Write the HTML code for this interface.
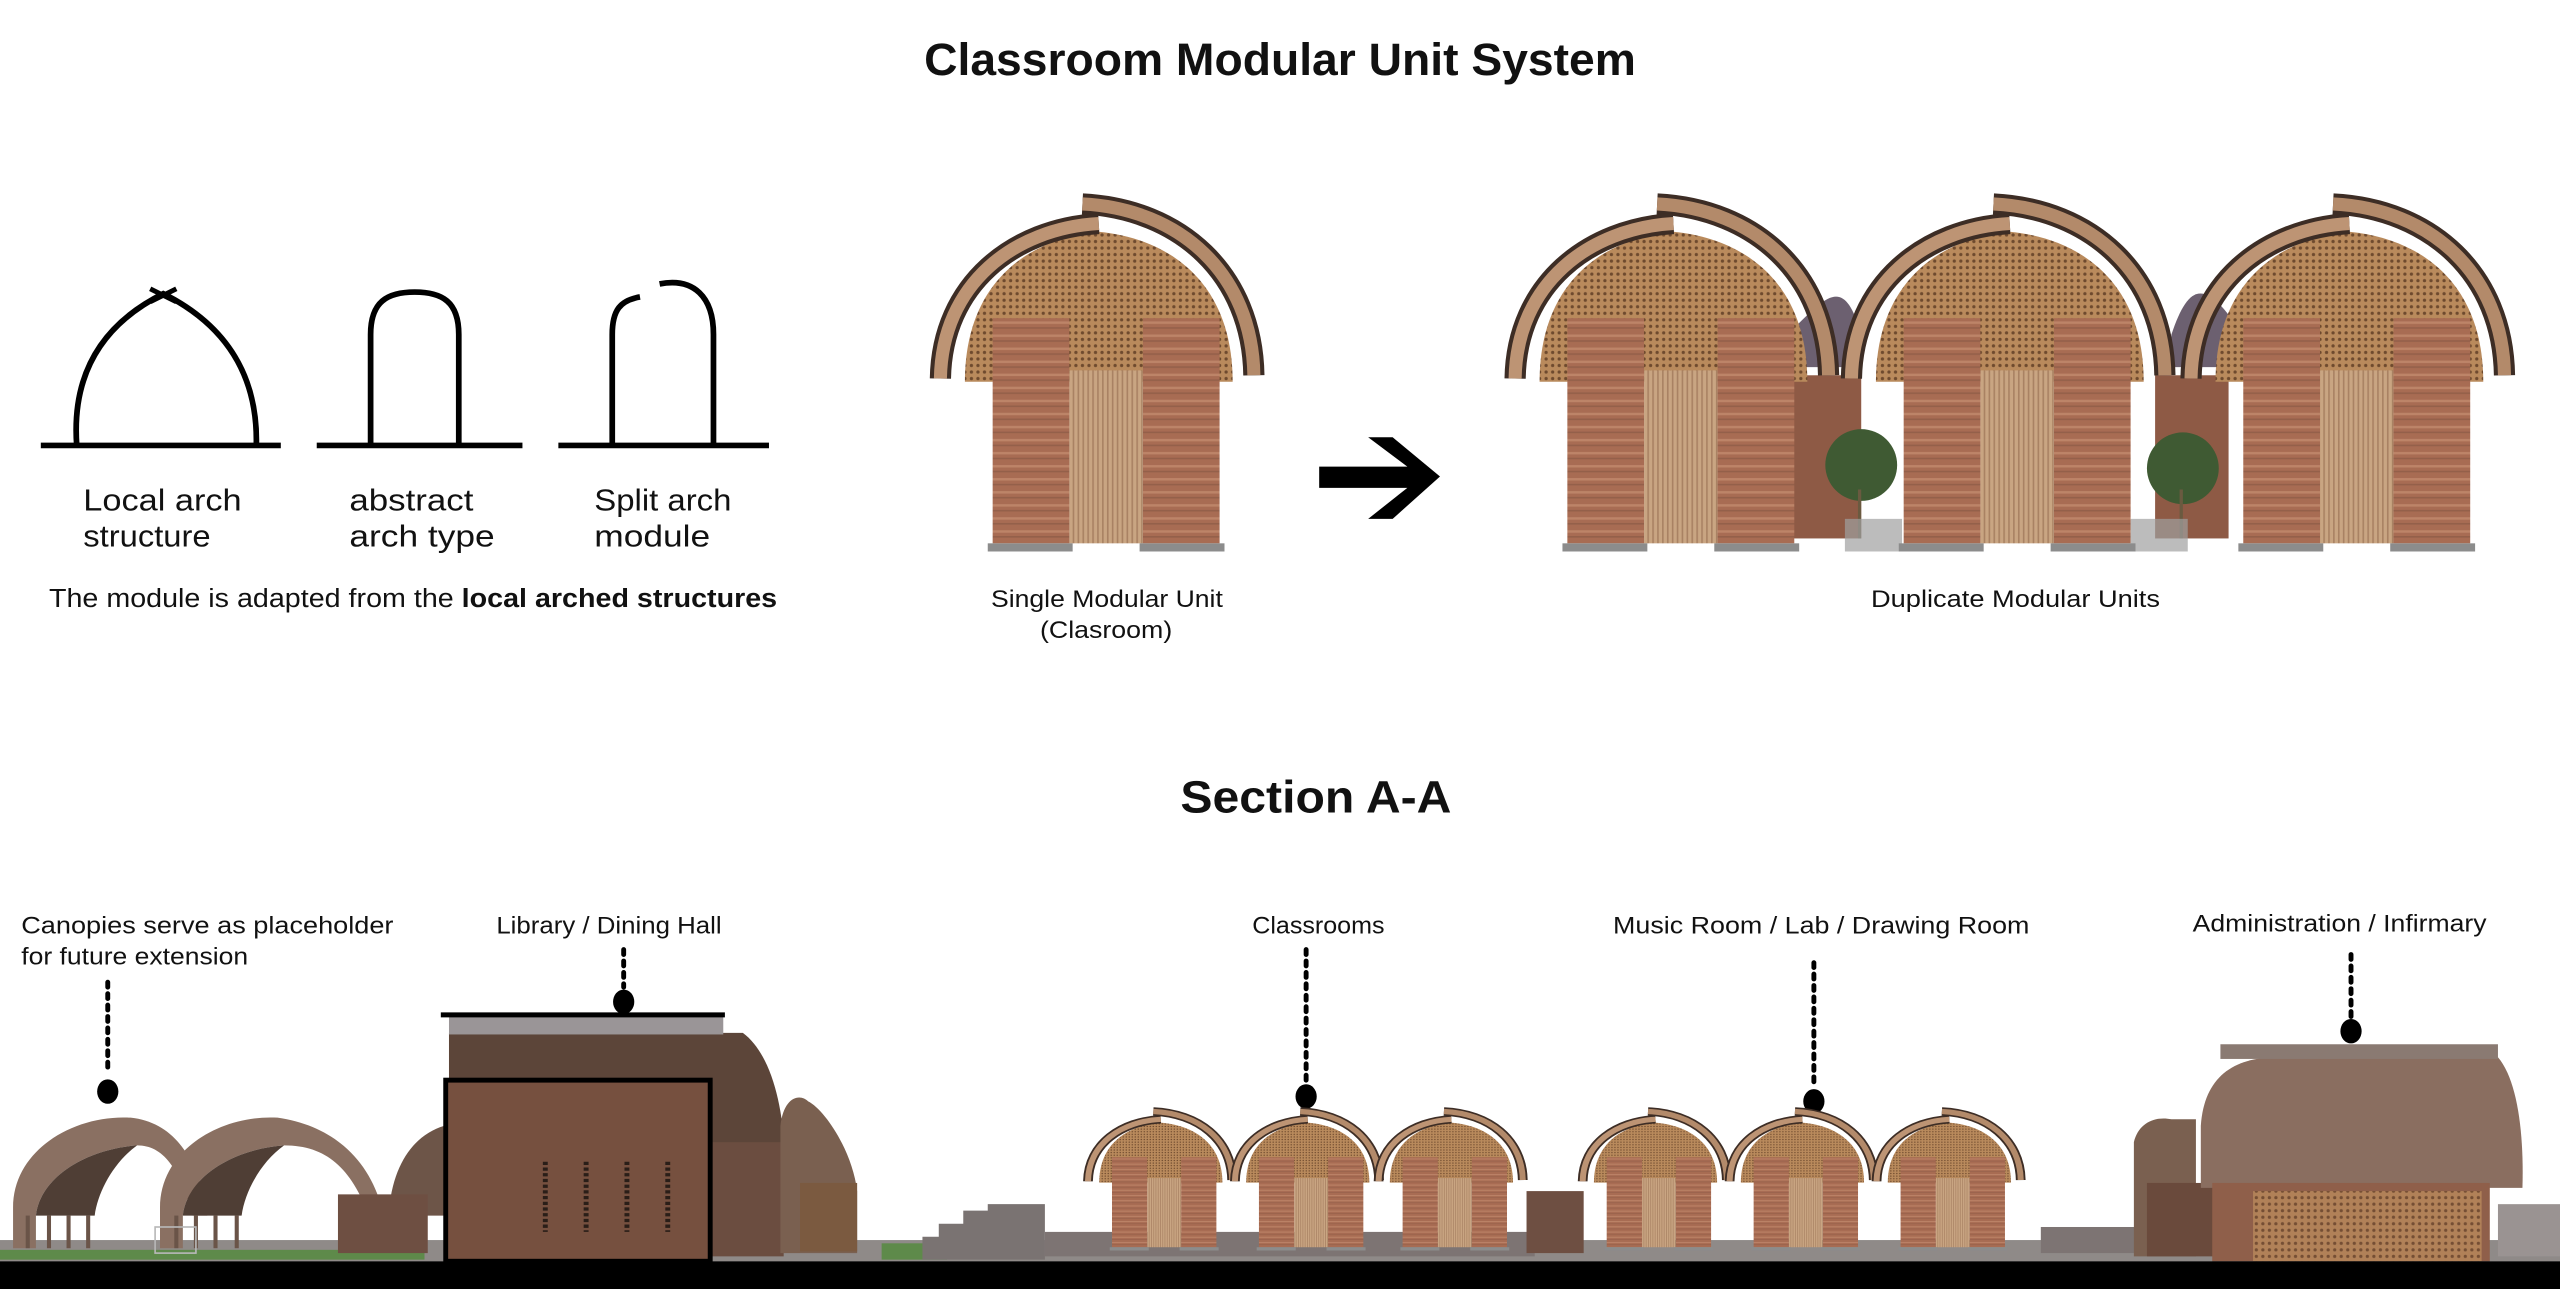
<!DOCTYPE html>
<html><head><meta charset="utf-8">
<style>
html,body{margin:0;padding:0;background:#fff;width:2560px;height:1289px;overflow:hidden}
svg{display:block}
text{font-family:"Liberation Sans",sans-serif;fill:#111}
</style></head>
<body>
<svg width="2560" height="1289" viewBox="0 0 1568 790" preserveAspectRatio="none" xmlns="http://www.w3.org/2000/svg">
<defs>
<pattern id="lat" width="4" height="4" patternUnits="userSpaceOnUse">
<rect width="4" height="4" fill="#b98a5c"/><circle cx="2" cy="2" r="1" fill="#6e4a2e"/>
</pattern>
<pattern id="reed" width="3" height="10" patternUnits="userSpaceOnUse">
<rect width="3" height="10" fill="#c9a582"/><rect width="1" height="10" fill="#a98263"/>
</pattern>
<pattern id="earth" width="20" height="8" patternUnits="userSpaceOnUse">
<rect width="20" height="8" fill="#a86c53"/><rect y="3" width="20" height="1.5" fill="#bd8468"/><rect y="6.5" width="20" height="1" fill="#94604a"/>
</pattern>
<g id="unit">
<path d="M18,112 C18,50 58,24 100,20 C142,24 182,50 182,112 Z" fill="url(#lat)"/>
<path d="M90,3 C150,6 194,46 195,108" fill="none" stroke="#3d2d25" stroke-width="13"/>
<path d="M90,3 C150,6 194,46 195,108" fill="none" stroke="#b38a6a" stroke-width="8"/>
<path d="M3,110 C4,52 48,18 100,15" fill="none" stroke="#3d2d25" stroke-width="13"/>
<path d="M3,110 C4,52 48,18 100,15" fill="none" stroke="#bd9474" stroke-width="8"/>
<rect x="35" y="73" width="47" height="138" fill="url(#earth)"/>
<rect x="127" y="73" width="47" height="138" fill="url(#earth)"/>
<rect x="82" y="73" width="45" height="32" fill="url(#lat)"/>
<rect x="82" y="105" width="45" height="106" fill="url(#reed)"/>
<rect x="32" y="211" width="52" height="5" fill="#8c8c8c"/>
<rect x="125" y="211" width="52" height="5" fill="#8c8c8c"/>
</g>
</defs>

<!-- Title -->
<text x="784" y="46" text-anchor="middle" font-size="28" font-weight="bold" textLength="436" lengthAdjust="spacingAndGlyphs">Classroom Modular Unit System</text>

<!-- arch diagrams -->
<g fill="none" stroke="#000" stroke-width="3.5">
<line x1="25" y1="273" x2="172" y2="273"/>
<path d="M47,273 C44,232 60,200 100,180 C140,200 158,232 157,273"/>
<path d="M92,177 L108,185 M92,185 L108,177" stroke-width="3"/>
<line x1="194" y1="273" x2="320" y2="273"/>
<path d="M227,273 L227,205 C227,185 237,179 254,179 C271,179 281,185 281,205 L281,273"/>
<line x1="342" y1="273" x2="471" y2="273"/>
<path d="M375,273 L375,205 C375,190 380,184 392,182"/>
<path d="M404,174 C425,170 437,182 437,205 L437,273"/>
</g>
<g font-size="19">
<text x="51" y="313" textLength="97" lengthAdjust="spacingAndGlyphs">Local arch</text><text x="51" y="335" textLength="78" lengthAdjust="spacingAndGlyphs">structure</text>
<text x="214" y="313" textLength="76" lengthAdjust="spacingAndGlyphs">abstract</text><text x="214" y="335" textLength="89" lengthAdjust="spacingAndGlyphs">arch type</text>
<text x="364" y="313" textLength="84" lengthAdjust="spacingAndGlyphs">Split arch</text><text x="364" y="335" textLength="71" lengthAdjust="spacingAndGlyphs">module</text>
</g>
<text x="30" y="372" font-size="16" textLength="446" lengthAdjust="spacingAndGlyphs">The module is adapted from the <tspan font-weight="bold">local arched structures</tspan></text>

<!-- single unit -->
<use href="#unit" x="573" y="122"/>
<text x="607" y="372" font-size="15" textLength="142" lengthAdjust="spacingAndGlyphs">Single Modular Unit</text>
<text x="637" y="391" font-size="15" textLength="81" lengthAdjust="spacingAndGlyphs">(Clasroom)</text>

<!-- arrow -->
<path d="M808,286 L862,286 L838,268 L853,268 L882,292 L853,318 L838,318 L862,299 L808,299 Z" fill="#000"/>

<!-- duplicate units -->
<rect x="1095" y="230" width="45" height="100" fill="#8e5a45"/>
<rect x="1320" y="230" width="45" height="100" fill="#8e5a45"/>
<path d="M1100,200 C1120,180 1130,170 1140,205 L1138,225 L1100,225Z" fill="#6c6070"/>
<path d="M1330,205 C1340,175 1350,170 1370,200 L1370,225 L1330,225Z" fill="#6c6070"/>
<circle cx="1140" cy="285" r="22" fill="#3f5a33"/><rect x="1138" y="300" width="2" height="30" fill="#6a5a40"/>
<circle cx="1337" cy="287" r="22" fill="#3f5a33"/><rect x="1335" y="300" width="2" height="30" fill="#6a5a40"/>
<rect x="1130" y="318" width="35" height="20" fill="#a0a0a0" opacity=".7"/>
<rect x="1305" y="318" width="35" height="20" fill="#a0a0a0" opacity=".7"/>
<use href="#unit" x="925" y="122"/>
<use href="#unit" x="1131" y="122"/>
<use href="#unit" x="1339" y="122"/>
<text x="1146" y="372" font-size="15" textLength="177" lengthAdjust="spacingAndGlyphs">Duplicate Modular Units</text>

<!-- Section title -->
<text x="806" y="498" text-anchor="middle" font-size="28" font-weight="bold" textLength="166" lengthAdjust="spacingAndGlyphs">Section A-A</text>

<!-- section labels -->
<g font-size="15">
<text x="13" y="572" textLength="228" lengthAdjust="spacingAndGlyphs">Canopies serve as placeholder</text>
<text x="13" y="591" textLength="139" lengthAdjust="spacingAndGlyphs">for future extension</text>
<text x="304" y="572" textLength="138" lengthAdjust="spacingAndGlyphs">Library / Dining Hall</text>
<text x="767" y="572" textLength="81" lengthAdjust="spacingAndGlyphs">Classrooms</text>
<text x="988" y="572" textLength="255" lengthAdjust="spacingAndGlyphs">Music Room / Lab / Drawing Room</text>
<text x="1343" y="571" textLength="180" lengthAdjust="spacingAndGlyphs">Administration / Infirmary</text>
</g>
<g stroke="#000" stroke-width="3" stroke-dasharray="3,4" stroke-linecap="round">
<line x1="66" y1="602" x2="66" y2="658"/>
<line x1="382" y1="582" x2="382" y2="605"/>
<line x1="800" y1="582" x2="800" y2="662"/>
<line x1="1111" y1="590" x2="1111" y2="666"/>
<line x1="1440" y1="585" x2="1440" y2="625"/>
</g>
<g fill="#000">
<ellipse cx="66" cy="669" rx="6.5" ry="7.5"/>
<ellipse cx="382" cy="614" rx="6.5" ry="7.5"/>
<ellipse cx="800" cy="672" rx="6.5" ry="7.5"/>
<ellipse cx="1111" cy="675" rx="6.5" ry="7.5"/>
<ellipse cx="1440" cy="632" rx="6.5" ry="7.5"/>
</g>

<!-- ground -->
<rect x="0" y="760" width="1568" height="13" fill="#8f8a88"/>
<rect x="0" y="766" width="260" height="6" fill="#5e8a4a"/>
<rect x="540" y="762" width="40" height="10" fill="#5e8a4a"/>

<!-- canopies -->
<g fill="#8a7062">
<path d="M8,765 L8,740 C8,705 45,683 80,685 C108,688 122,712 127,745 L118,745 C110,716 100,702 84,702 C55,704 25,720 22,745 L22,765 Z"/>
<path d="M98,765 L98,740 C98,705 135,683 170,685 C205,690 228,712 235,745 L226,745 C215,716 200,702 174,702 C145,704 115,720 112,745 L112,765 Z"/>
</g>
<g fill="#4f3e35"><path d="M22,745 C25,720 55,704 84,702 C70,712 60,730 58,745Z"/><path d="M112,745 C115,720 145,704 174,702 C160,712 150,730 148,745Z"/></g>
<g stroke="#6a5448" stroke-width="2.5">
<line x1="17" y1="745" x2="17" y2="765"/><line x1="30" y1="745" x2="30" y2="765"/><line x1="42" y1="745" x2="42" y2="765"/><line x1="54" y1="745" x2="54" y2="765"/>
<line x1="108" y1="745" x2="108" y2="765"/><line x1="120" y1="745" x2="120" y2="765"/><line x1="132" y1="745" x2="132" y2="765"/><line x1="145" y1="745" x2="145" y2="765"/>
</g>
<rect x="95" y="752" width="25" height="16" fill="none" stroke="#b8b8b8"/>
<path d="M238,745 C240,712 255,695 272,690 L272,745Z" fill="#6d5548"/>
<rect x="207" y="732" width="55" height="36" fill="#6e4f42"/>

<!-- library -->
<path d="M275,633 L455,633 C478,650 482,700 480,720 L275,720 Z" fill="#5c4539"/>
<rect x="275" y="623" width="168" height="11" fill="#9a9597"/>
<line x1="270" y1="622" x2="444" y2="622" stroke="#000" stroke-width="3"/>
<rect x="435" y="700" width="45" height="70" fill="#6b4d40"/>
<path d="M478,768 L478,690 C480,672 490,670 495,675 C505,680 522,705 525,730 L525,768Z" fill="#7a6050"/>
<rect x="490" y="725" width="35" height="42" fill="#7b5a40"/>
<rect x="273" y="662" width="162" height="111" fill="#76503f" stroke="#000" stroke-width="3"/>
<g stroke="#2a1e18" stroke-width="3" stroke-dasharray="2,1.5">
<line x1="334" y1="712" x2="334" y2="755"/><line x1="359" y1="712" x2="359" y2="755"/>
<line x1="384" y1="712" x2="384" y2="755"/><line x1="409" y1="712" x2="409" y2="755"/>
</g>

<!-- steps -->
<path d="M565,772 L565,758 L575,758 L575,750 L590,750 L590,742 L605,742 L605,738 L640,738 L640,772Z" fill="#7a7372"/>
<rect x="640" y="755" width="300" height="15" fill="#7d7473"/>

<!-- classrooms -->
<use href="#unit" transform="translate(665,680) scale(0.46,0.4)"/>
<use href="#unit" transform="translate(755,680) scale(0.46,0.4)"/>
<use href="#unit" transform="translate(843,680) scale(0.46,0.4)"/>
<rect x="935" y="730" width="35" height="38" fill="#6e4f42"/>
<use href="#unit" transform="translate(968,680) scale(0.46,0.4)"/>
<use href="#unit" transform="translate(1058,680) scale(0.46,0.4)"/>
<use href="#unit" transform="translate(1148,680) scale(0.46,0.4)"/>
<rect x="1250" y="752" width="60" height="16" fill="#7d7473"/>

<!-- admin -->
<path d="M1307,770 L1307,700 C1310,688 1320,684 1330,686 L1345,686 L1345,770Z" fill="#7a6050"/>
<rect x="1315" y="725" width="45" height="45" fill="#6a4a3c"/>
<path d="M1348,728 L1348,690 C1350,660 1368,648 1395,648 L1530,648 C1542,662 1546,695 1545,728 Z" fill="#8a6e60"/>
<rect x="1360" y="640" width="170" height="9" fill="#8a7a72"/>
<rect x="1355" y="725" width="170" height="48" fill="#8f5f4a"/>
<rect x="1380" y="730" width="140" height="43" fill="url(#lat)" opacity=".8"/>
<rect x="1530" y="738" width="38" height="32" fill="#9a9392"/>

<!-- black base -->
<rect x="0" y="773" width="1568" height="17" fill="#000"/>
</svg>
</body></html>
